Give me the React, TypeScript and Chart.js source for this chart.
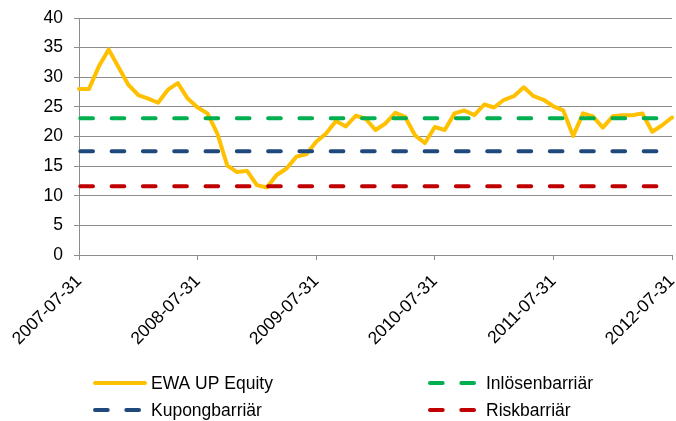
import React, { useEffect, useRef } from "react";
import { Chart, registerables } from "chart.js";

Chart.register(...registerables);

const months: string[] = [
  "2007-07-31", "2007-08-31", "2007-09-30", "2007-10-31", "2007-11-30", "2007-12-31",
  "2008-01-31", "2008-02-29", "2008-03-31", "2008-04-30", "2008-05-31", "2008-06-30",
  "2008-07-31", "2008-08-31", "2008-09-30", "2008-10-31", "2008-11-30", "2008-12-31",
  "2009-01-31", "2009-02-28", "2009-03-31", "2009-04-30", "2009-05-31", "2009-06-30",
  "2009-07-31", "2009-08-31", "2009-09-30", "2009-10-31", "2009-11-30", "2009-12-31",
  "2010-01-31", "2010-02-28", "2010-03-31", "2010-04-30", "2010-05-31", "2010-06-30",
  "2010-07-31", "2010-08-31", "2010-09-30", "2010-10-31", "2010-11-30", "2010-12-31",
  "2011-01-31", "2011-02-28", "2011-03-31", "2011-04-30", "2011-05-31", "2011-06-30",
  "2011-07-31", "2011-08-31", "2011-09-30", "2011-10-31", "2011-11-30", "2011-12-31",
  "2012-01-31", "2012-02-29", "2012-03-31", "2012-04-30", "2012-05-31", "2012-06-30",
  "2012-07-31",
];

const ewaValues: number[] = [
  28.0, 28.0, 31.8, 34.7, 31.7, 28.7, 27.0, 26.4, 25.7, 27.9, 29.0, 26.4,
  24.9, 23.9, 20.5, 15.1, 14.0, 14.2, 11.8, 11.4, 13.5, 14.6, 16.6, 17.0,
  19.1, 20.5, 22.6, 21.7, 23.5, 23.0, 21.1, 22.2, 24.0, 23.3, 20.2, 18.9,
  21.6, 21.1, 23.9, 24.4, 23.6, 25.4, 24.9, 26.2, 26.8, 28.3, 26.8, 26.2,
  25.1, 24.4, 20.1, 23.9, 23.4, 21.5, 23.4, 23.6, 23.6, 23.9, 20.8, 21.9,
  23.2,
];

const inlosenLevel = 23.1;
const kupongLevel = 17.5;
const riskLevel = 11.6;

const seriesLabels = ["EWA UP Equity", "Inlösenbarriär", "Kupongbarriär", "Riskbarriär"];

const yMin = 0;
const yMax = 40;
const yStep = 5;
const tickEvery = 12;

const FONT_FAMILY = "'Liberation Sans', Arial, Helvetica, sans-serif";
const FONT_SIZE = 17.5;
const GRID = "#8c8c8c";
const DASH = [12.7, 18.6];

export default function App() {
  const ref = useRef<HTMLCanvasElement | null>(null);

  useEffect(() => {
    if (!ref.current) return;

    const barrier = (level: number) => [
      { x: months[0], y: level },
      { x: months[months.length - 1], y: level },
    ];

    const legendPlugin = {
      id: "customLegend",
      afterDraw(chart: any) {
        const ctx = chart.ctx as CanvasRenderingContext2D;
        const colX = [93, 428];
        const rowY = [383, 410];
        const sampleLen = 54;
        chart.data.datasets.forEach((ds: any, i: number) => {
          const x0 = colX[i % 2];
          const y = rowY[Math.floor(i / 2)];
          ctx.save();
          ctx.strokeStyle = ds.borderColor;
          ctx.lineWidth = 4;
          ctx.lineCap = "round";
          ctx.beginPath();
          if (ds.borderDash && ds.borderDash.length) {
            ctx.setLineDash(ds.borderDash);
            ctx.moveTo(x0 + 2, y);
            ctx.lineTo(x0 + sampleLen - 7, y);
          } else {
            ctx.moveTo(x0 + 2, y);
            ctx.lineTo(x0 + sampleLen - 2, y);
          }
          ctx.stroke();
          ctx.setLineDash([]);
          ctx.fillStyle = "#000";
          ctx.font = `${FONT_SIZE}px ${FONT_FAMILY}`;
          ctx.textBaseline = "middle";
          ctx.textAlign = "left";
          ctx.fillText(ds.label, x0 + sampleLen + 4, y + 1);
          ctx.restore();
        });
      },
    };

    const chart = new Chart(ref.current, {
      type: "line",
      data: {
        labels: months,
        datasets: [
          {
            label: seriesLabels[0],
            data: ewaValues,
            borderColor: "#FFC000",
            backgroundColor: "#FFC000",
            borderWidth: 4,
            pointRadius: 0,
            tension: 0,
            borderJoinStyle: "round",
            borderCapStyle: "round",
            order: 1,
          },
          {
            label: seriesLabels[1],
            data: barrier(inlosenLevel) as any,
            borderColor: "#00B050",
            backgroundColor: "#00B050",
            borderWidth: 4,
            borderDash: DASH,
            borderDashOffset: -1.3,
            borderCapStyle: "round",
            pointRadius: 0,
            order: 0,
          },
          {
            label: seriesLabels[2],
            data: barrier(kupongLevel) as any,
            borderColor: "#1F497D",
            backgroundColor: "#1F497D",
            borderWidth: 4,
            borderDash: DASH,
            borderDashOffset: -1.3,
            borderCapStyle: "round",
            pointRadius: 0,
            order: 0,
          },
          {
            label: seriesLabels[3],
            data: barrier(riskLevel) as any,
            borderColor: "#C00000",
            backgroundColor: "#C00000",
            borderWidth: 4,
            borderDash: DASH,
            borderDashOffset: -1.3,
            borderCapStyle: "round",
            pointRadius: 0,
            order: 0,
          },
        ],
      },
      options: {
        responsive: false,
        maintainAspectRatio: false,
        animation: false,
        layout: { padding: { left: 0, top: 18, right: 4, bottom: 66 } },
        plugins: {
          legend: { display: false },
          tooltip: { enabled: false },
        },
        scales: {
          x: {
            type: "category",
            offset: false,
            afterFit(scale: any) {
              scale.height = 100;
              scale.paddingLeft = 0;
              scale.paddingRight = 0;
            },
            grid: {
              drawOnChartArea: false,
              drawTicks: true,
              tickLength: 5,
              color: (c: any) => (c.index % tickEvery === 0 ? GRID : "rgba(0,0,0,0)"),
            },
            border: { display: true, color: GRID, width: 1 },
            ticks: {
              autoSkip: false,
              minRotation: 45,
              maxRotation: 45,
              padding: 11,
              color: "#000",
              font: { family: FONT_FAMILY, size: FONT_SIZE },
              callback: function (this: any, value: any, index: number) {
                return index % tickEvery === 0 ? this.getLabelForValue(value) : "";
              },
            },
          },
          y: {
            min: yMin,
            max: yMax,
            afterFit(scale: any) {
              scale.width = 79;
              scale.paddingTop = 0;
              scale.paddingBottom = 0;
            },
            grid: { color: GRID, lineWidth: 1, tickLength: 5 },
            border: { display: true, color: GRID, width: 1 },
            ticks: {
              stepSize: yStep,
              padding: 11,
              color: "#000",
              font: { family: FONT_FAMILY, size: FONT_SIZE },
            },
          },
        },
      },
      plugins: [legendPlugin],
    } as any);

    return () => chart.destroy();
  }, []);

  return (
    <div style={{ position: "fixed", left: 0, top: 0, width: 676, height: 421, background: "#fff" }}>
      <canvas ref={ref} width={676} height={421} style={{ display: "block", width: 676, height: 421 }} />
    </div>
  );
}
